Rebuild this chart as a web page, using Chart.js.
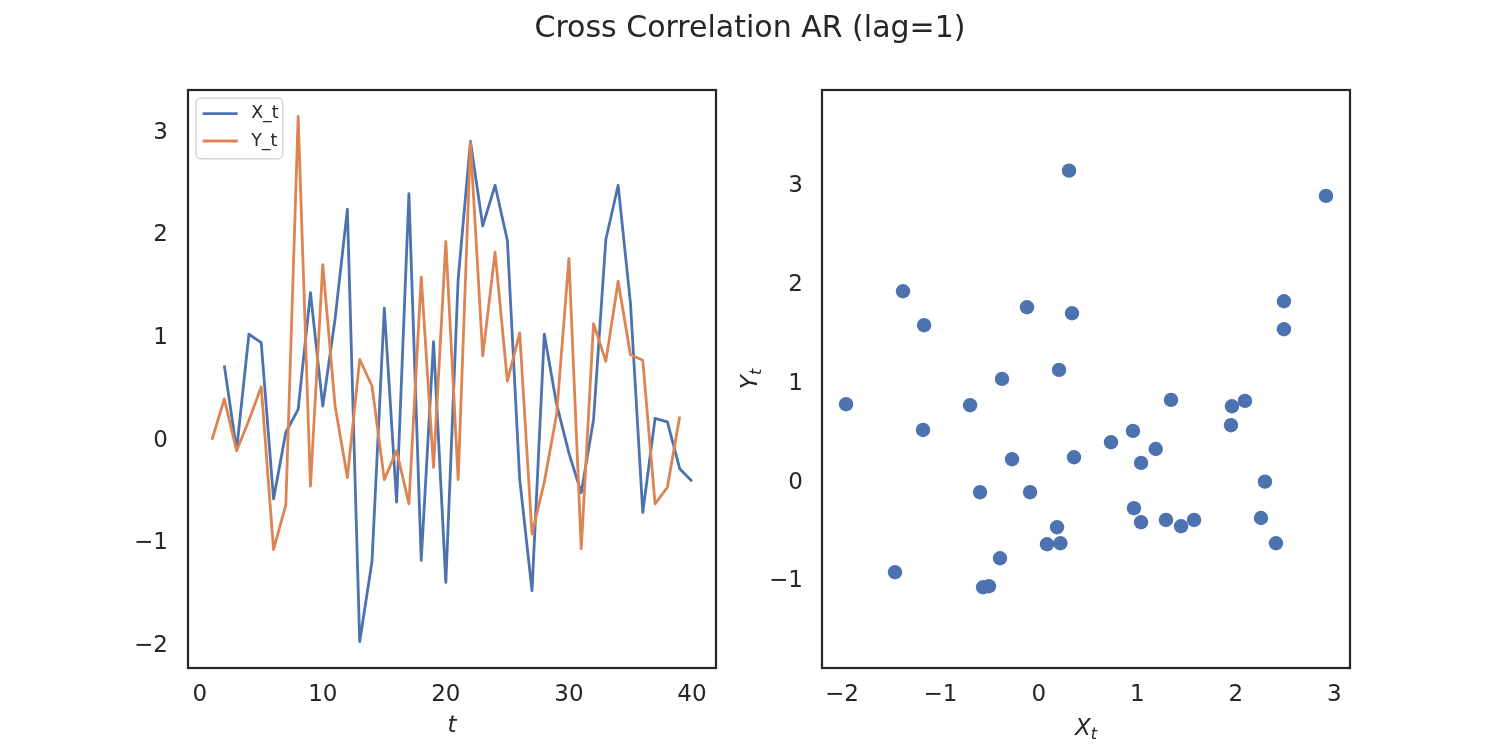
<!DOCTYPE html>
<html>
<head>
<meta charset="utf-8">
<script src="https://cdn.jsdelivr.net/npm/chart.js@4.4.0/dist/chart.umd.min.js"></script>
<style>
  html, body { margin: 0; padding: 0; background: #ffffff; }
  #wrap { position: relative; width: 1500px; height: 750px; overflow: hidden; background: #ffffff; }
  #c1 { position: absolute; left: 0; top: 0; }
  #c2 { position: absolute; left: 720px; top: 0; }
  #title { position: absolute; left: 0; top: 12px; width: 1500px; text-align: center;
           font-family: "DejaVu Sans"; font-size: 30px; line-height: 30px; color: #262626; }
</style>
</head>
<body>
<div id="wrap">
  <canvas id="c1" width="750" height="750"></canvas>
  <canvas id="c2" width="780" height="750"></canvas>
  <div id="title">Cross Correlation AR (lag=1)</div>
</div>
<script>
// ---------------- data ----------------
const timeSteps = [1,2,3,4,5,6,7,8,9,10,11,12,13,14,15,16,17,18,19,20,
                   21,22,23,24,25,26,27,28,29,30,31,32,33,34,35,36,37,38,39,40];
const seriesX = [2.296, 0.733, -0.089, 1.038, 0.956, -0.566, 0.083, 0.307, 1.444, 0.337,
                 1.187, 2.256, -1.957, -1.176, 1.291, -0.597, 2.408, -1.165, 0.966, -1.379,
                 1.576, 2.916, 2.093, 2.489, 1.951, -0.374, -1.460, 1.038, 0.357, -0.120,
                 -0.506, 0.205, 1.961, 2.489, 1.342, -0.698, 0.219, 0.185, -0.272, -0.394];
const seriesY = [0.010, 0.409, -0.097, 0.200, 0.524, -1.060, -0.624, 3.161, -0.442, 1.716,
                 0.341, -0.358, 0.794, 0.534, -0.378, -0.097, -0.614, 1.595, -0.259, 1.939,
                 -0.378, 2.905, 0.828, 1.838, 0.582, 1.051, -0.908, -0.401, 0.257, 1.777,
                 -1.050, 1.142, 0.774, 1.554, 0.838, 0.784, -0.614, -0.452, 0.237, -0.766];
const seriesLabels = ['X_t', 'Y_t'];
const lineXTicks = [0, 10, 20, 30, 40];
const lineYTicks = [-2, -1, 0, 1, 2, 3];
const scatterXTicks = [-2, -1, 0, 1, 2, 3];
const scatterYTicks = [-1, 0, 1, 2, 3];

// ---------------- styling ----------------
const BLUE = '#4C72B0';
const ORANGE = '#DD8452';
const INK = '#262626';
Chart.defaults.font.family = '"DejaVu Sans"';
Chart.defaults.color = INK;

const fmt = v => (v < 0 ? '\u2212' + Math.abs(v) : String(v));

function axisOpts(min, max, ticks, isX, fixedSize, pad) {
  return {
    type: 'linear',
    min: min, max: max,
    grid: { display: false, drawTicks: false },
    border: { display: false },
    ticks: {
      font: { size: 23 },
      color: INK,
      padding: pad,
      maxRotation: 0,
      autoSkip: false,
      callback: v => fmt(v)
    },
    afterBuildTicks: s => { s.ticks = ticks.map(v => ({ value: v })); },
    afterFit: s => { if (isX) s.height = fixedSize; else s.width = fixedSize; }
  };
}

const framePlugin = {
  id: 'frame',
  afterDatasetsDraw(chart) {
    const { ctx, chartArea: a } = chart;
    ctx.save();
    ctx.strokeStyle = INK;
    ctx.lineWidth = 2.2;
    ctx.strokeRect(a.left, a.top, a.right - a.left, a.bottom - a.top);
    ctx.restore();
  }
};

function drawMath(ctx, px, py, main, sub, vertical) {
  ctx.save();
  ctx.translate(px, py);
  if (vertical) ctx.rotate(-Math.PI / 2);
  ctx.fillStyle = INK;
  ctx.textBaseline = 'alphabetic';
  ctx.textAlign = 'left';
  ctx.font = 'italic 23px "DejaVu Sans"';
  const wM = ctx.measureText(main).width;
  let wS = 0;
  if (sub) { ctx.font = 'italic 16px "DejaVu Sans"'; wS = ctx.measureText(sub).width; }
  const x0 = -(wM + wS) / 2;
  ctx.font = 'italic 23px "DejaVu Sans"';
  ctx.fillText(main, x0, 0);
  if (sub) { ctx.font = 'italic 16px "DejaVu Sans"'; ctx.fillText(sub, x0 + wM, 4); }
  ctx.restore();
}

const axisLabelPlugin = {
  id: 'axisLabels',
  afterDraw(chart, args, opts) {
    const { ctx, chartArea: a } = chart;
    if (opts.x) drawMath(ctx, (a.left + a.right) / 2, a.bottom + opts.x.dy, opts.x.main, opts.x.sub, false);
    if (opts.y) drawMath(ctx, a.left - opts.y.dx, (a.top + a.bottom) / 2, opts.y.main, opts.y.sub, true);
  }
};

const legendPlugin = {
  id: 'boxLegend',
  afterDraw(chart, args, opts) {
    if (!opts.show) return;
    const { ctx, chartArea: a } = chart;
    const fs = 17.4;
    const x = a.left + 8.2, y = a.top + 8.2, w = 86.5, h = 60.5, r = 4;
    ctx.save();
    ctx.beginPath();
    ctx.moveTo(x + r, y);
    ctx.arcTo(x + w, y, x + w, y + h, r);
    ctx.arcTo(x + w, y + h, x, y + h, r);
    ctx.arcTo(x, y + h, x, y, r);
    ctx.arcTo(x, y, x + w, y, r);
    ctx.closePath();
    ctx.fillStyle = 'rgba(255,255,255,0.8)';
    ctx.fill();
    ctx.strokeStyle = '#d6d6d6';
    ctx.lineWidth = 1.4;
    ctx.stroke();
    chart.data.datasets.forEach((ds, i) => {
      const ly = y + 15.5 + i * 27.3;
      ctx.beginPath();
      ctx.moveTo(x + 6.5, ly);
      ctx.lineTo(x + 41.5, ly);
      ctx.strokeStyle = ds.borderColor;
      ctx.lineWidth = 2.8;
      ctx.lineCap = 'butt';
      ctx.stroke();
      ctx.fillStyle = INK;
      ctx.font = fs + 'px "DejaVu Sans"';
      ctx.textBaseline = 'middle';
      ctx.textAlign = 'left';
      ctx.fillText(ds.label, x + 55, ly);
    });
    ctx.restore();
  }
};

// ---------------- left: time series ----------------
const lineXData = timeSteps.slice(1).map((t, i) => ({ x: t, y: seriesX[i + 1] }));
const lineYData = timeSteps.slice(0, 39).map((t, i) => ({ x: t, y: seriesY[i] }));

new Chart(document.getElementById('c1'), {
  type: 'line',
  data: {
    datasets: [
      { label: seriesLabels[0], data: lineXData, borderColor: BLUE, backgroundColor: BLUE,
        borderWidth: 2.8, pointRadius: 0, tension: 0, borderJoinStyle: 'round', order: 2 },
      { label: seriesLabels[1], data: lineYData, borderColor: ORANGE, backgroundColor: ORANGE,
        borderWidth: 2.8, pointRadius: 0, tension: 0, borderJoinStyle: 'round', order: 1 }
    ]
  },
  options: {
    responsive: false,
    animation: false,
    layout: { padding: { left: 100, top: 90, right: 34, bottom: 22 } },
    scales: {
      x: axisOpts(-0.95, 41.95, lineXTicks, true, 60, 13),
      y: axisOpts(-2.213, 3.417, lineYTicks, false, 88, 20)
    },
    plugins: {
      legend: { display: false },
      tooltip: { enabled: false },
      axisLabels: { x: { main: 't', sub: '', dy: 64 } },
      boxLegend: { show: true }
    }
  },
  plugins: [framePlugin, axisLabelPlugin, legendPlugin]
});

// ---------------- right: scatter ----------------
const scatterData = seriesX.map((v, i) => ({ x: v, y: seriesY[i] }));

new Chart(document.getElementById('c2'), {
  type: 'scatter',
  data: {
    datasets: [
      { label: 'scatter', data: scatterData, backgroundColor: BLUE, borderColor: BLUE,
        borderWidth: 0, pointRadius: 7.2, pointHoverRadius: 7.2 }
    ]
  },
  options: {
    responsive: false,
    animation: false,
    layout: { padding: { left: 0, top: 90, right: 150, bottom: 22 } },
    scales: {
      x: axisOpts(-2.2015, 3.1595, scatterXTicks, true, 60, 13),
      y: axisOpts(-1.878, 3.978, scatterYTicks, false, 102, 19)
    },
    plugins: {
      legend: { display: false },
      tooltip: { enabled: false },
      axisLabels: { x: { main: 'X', sub: 't', dy: 67 }, y: { main: 'Y', sub: 't', dx: 65 } },
      boxLegend: { show: false }
    }
  },
  plugins: [framePlugin, axisLabelPlugin, legendPlugin]
});
</script>
</body>
</html>
